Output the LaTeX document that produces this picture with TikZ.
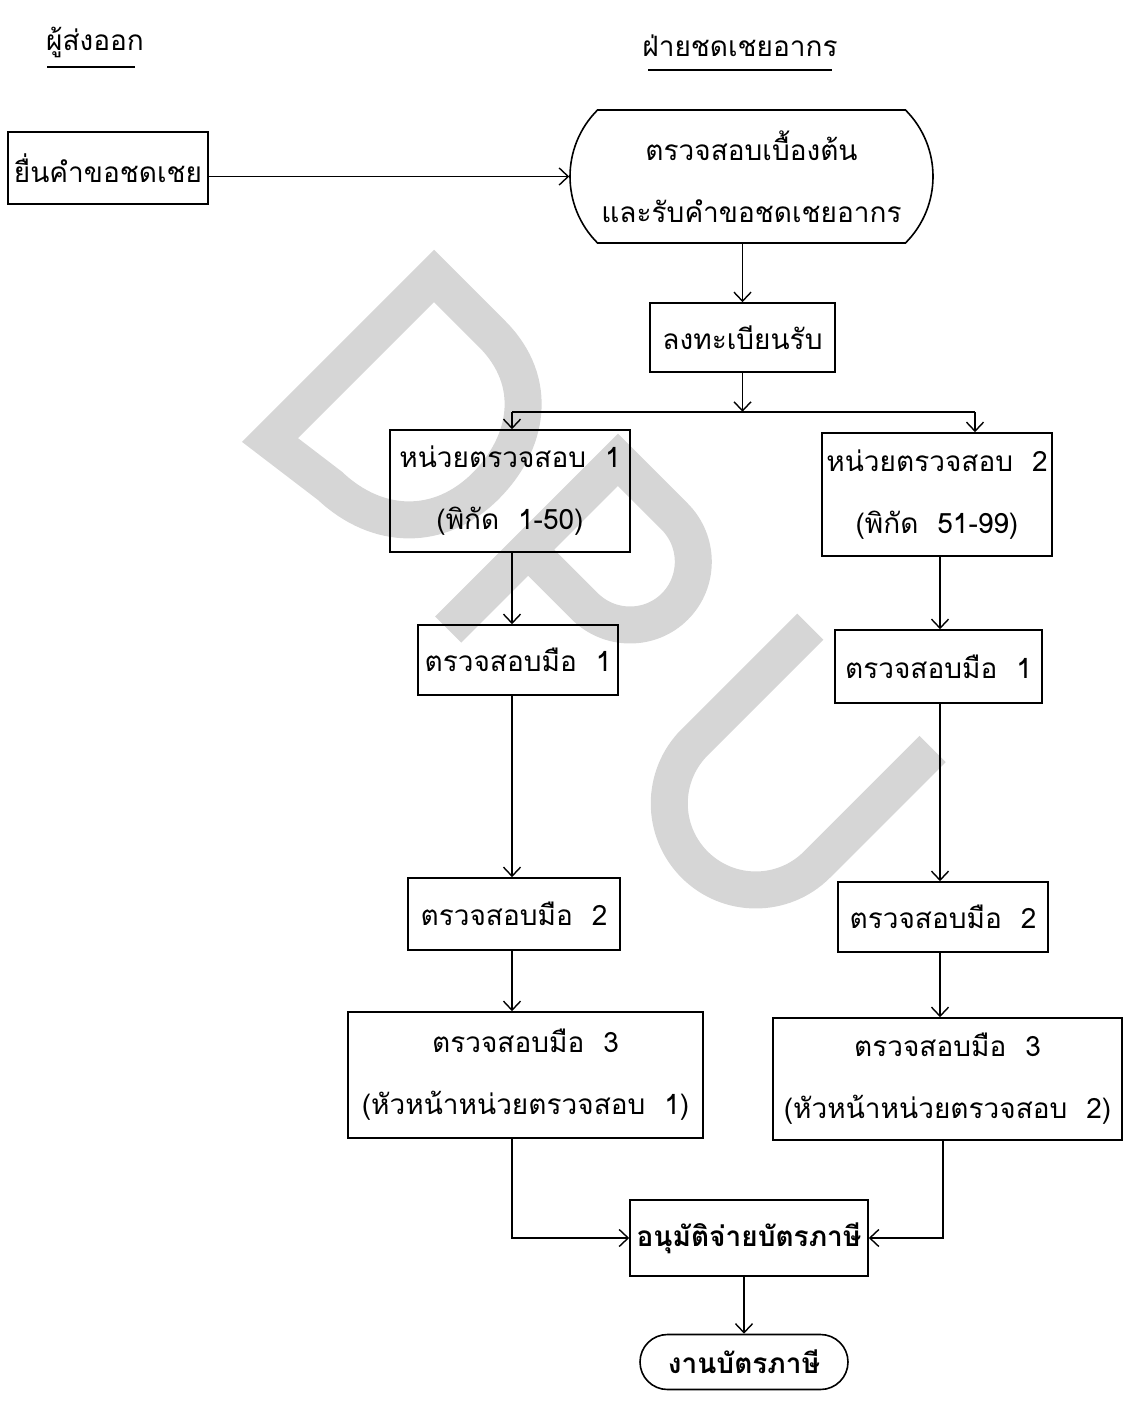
\documentclass[tikz,border=0pt]{standalone}
\usepackage{fontspec}
\newfontfamily\thai[Script=Thai]{Loma}
\usetikzlibrary{arrows.meta,shapes.misc,calc}
\definecolor{wmgray}{RGB}{214,214,214}

\begin{document}
\begin{tikzpicture}[x=1pt,y=-1pt,
  base/.style={font=\thai\fontsize{28}{62}\selectfont, align=center, inner sep=0pt},
  proc/.style={base, draw, line width=1.6pt, rectangle},
  term/.style={base, draw, line width=1.6pt, rounded rectangle},
  link/.style={line width=1.4pt},
  arr/.style={link, -{Straight Barb[length=9pt,width=17pt]}},
  wm/.style={draw=wmgray, line width=37pt, line join=miter}
]
\useasboundingbox (0,0) rectangle (1124,1404);

% background lettering, running diagonally
\begin{scope}[shift={(270,440)}, x={(0.7071pt,-0.7071pt)}, y={(0.7071pt,0.7071pt)}]
  % D
  \draw[wm] (0,0) -- (0,232) -- (82,232)
     .. controls (150,232) and (185,180) .. (185,120)
     .. controls (185,55) and (140,12) .. (75,10) -- cycle;
  % P
  \draw[wm] (260,-8) -- (260,232) -- (340,232)
     .. controls (375.3,232) and (404,203.5) .. (404,168.5)
     .. controls (404,133.5) and (375.3,105) .. (340,105) -- (260,105);
  % U
  \draw[wm] (514,250) -- (514,86.5)
     .. controls (514,38.7) and (552.7,0) .. (600.5,0)
     .. controls (648.3,0) and (687,38.7) .. (687,86.5) -- (687,250);
\end{scope}

% column headings
\node[base] (hexp) at (95,42) {ผู้ส่งออก};
\draw[link] (47,67) coordinate (ul1) -- (135,67) coordinate (ur1);
\node[base] (hdept) at (740,46) {ฝ่ายชดเชยอากร};
\draw[link] (648,70) coordinate (ul2) -- (832,70) coordinate (ur2);

% boxes
\node[proc, minimum width=200pt, minimum height=72pt] (a1) at (108,168) {ยื่นคำขอชดเชย};
\node[term, rounded rectangle arc length=90, minimum width=363pt, minimum height=133pt] (a2) at (751.5,176.5)
  {ตรวจสอบเบื้องต้น\\และรับคำขอชดเชยอากร};
\node[proc, minimum width=185pt, minimum height=69pt] (b) at (742.5,337.5) {ลงทะเบียนรับ};
\node[proc, minimum width=240pt, minimum height=122pt] (c1) at (510,491) {หน่วยตรวจสอบ\ \ 1\\(พิกัด\ \ 1-50)};
\node[proc, minimum width=230pt, minimum height=123pt] (c2) at (937,494.5) {หน่วยตรวจสอบ\ \ 2\\(พิกัด\ \ 51-99)};
\node[proc, minimum width=200pt, minimum height=70pt] (d1) at (518,660) {ตรวจสอบมือ\ \ 1};
\node[proc, minimum width=207pt, minimum height=73pt] (d2) at (938.5,666.5) {ตรวจสอบมือ\ \ 1};
\node[proc, minimum width=212pt, minimum height=72pt] (e1) at (514,914) {ตรวจสอบมือ\ \ 2};
\node[proc, minimum width=210pt, minimum height=70pt] (e2) at (943,917) {ตรวจสอบมือ\ \ 2};
\node[proc, minimum width=355pt, minimum height=126pt] (f1) at (525.5,1075) {ตรวจสอบมือ\ \ 3\\(หัวหน้าหน่วยตรวจสอบ\ \ 1)};
\node[proc, minimum width=349pt, minimum height=122pt] (f2) at (947.5,1079) {ตรวจสอบมือ\ \ 3\\(หัวหน้าหน่วยตรวจสอบ\ \ 2)};
\node[proc, minimum width=238pt, minimum height=76pt, font=\thai\bfseries\fontsize{28}{62}\selectfont] (g) at (749,1238) {อนุมัติจ่ายบัตรภาษี};
\node[term, minimum width=208pt, minimum height=55pt, font=\thai\bfseries\fontsize{28}{62}\selectfont] (h) at (744,1362) {งานบัตรภาษี};

% connectors
\coordinate (colL) at (512,0);
\coordinate (colR) at (940,0);
\draw[arr] (a1.east |- a2.west) -- (a2.west);
\draw[arr] (b.north |- a2.south) -- (b.north);
\coordinate (j) at ($(b.south)+(0,39)$);
\draw[arr] (b.south) -- (j);
\coordinate (jl) at (j -| colL);
\coordinate (jr) at ($(j -| c2.north)+(38,0)$);
\draw[link] (jl) -- (jr);
\draw[arr] (jl) -- (jl |- c1.north);
\draw[arr] (jr) -- (jr |- c2.north);
\draw[arr] (colL |- c1.south) -- (colL |- d1.north);
\draw[arr] (colR |- c2.south) -- (colR |- d2.north);
\draw[arr] (colL |- d1.south) -- (colL |- e1.north);
\draw[arr] (colR |- d2.south) -- (colR |- e2.north);
\draw[arr] (colL |- e1.south) -- (colL |- f1.north);
\draw[arr] (colR |- e2.south) -- (colR |- f2.north);
\draw[arr] (colL |- f1.south) |- (g.west);
\draw[arr] ($(colR |- f2.south)+(3,0)$) |- (g.east);
\draw[arr] (h.north |- g.south) -- (h.north);
\end{tikzpicture}
\end{document}
